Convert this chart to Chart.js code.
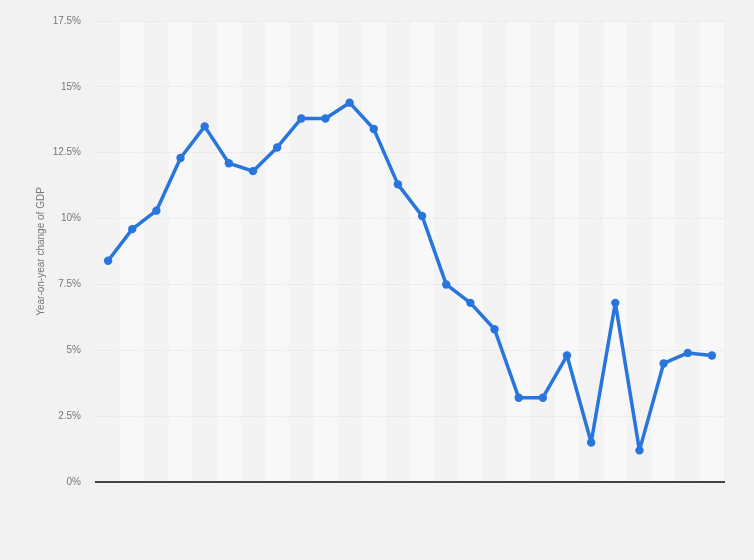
<!DOCTYPE html>
<html>
<head>
<meta charset="utf-8">
<script src="https://cdn.jsdelivr.net/npm/chart.js@4"></script>
<style>
  html, body { margin: 0; padding: 0; background: #f2f2f2; }
  #wrap { width: 754px; height: 560px; position: relative; }
</style>
</head>
<body>
<div id="wrap"><canvas id="canvas"></canvas></div>
<script>
// years are not shown on the reference, so the categories are just positions
var categories = [];
for (var i = 1; i <= 26; i++) categories.push(String(i));

var gdpChange = [8.4, 9.6, 10.3, 12.3, 13.5, 12.1, 11.8, 12.7, 13.8, 13.8,
                 14.4, 13.4, 11.3, 10.1, 7.5, 6.8, 5.8, 3.2, 3.2, 4.8,
                 1.5, 6.8, 1.2, 4.5, 4.9, 4.8];

var yTicks = [0, 2.5, 5, 7.5, 10, 12.5, 15, 17.5];

// alternating column bands behind the line
var stripes = {
  id: 'stripes',
  beforeDraw: function(chart) {
    var ctx = chart.ctx, area = chart.chartArea, x = chart.scales.x;
    var half = (x.getPixelForValue(1) - x.getPixelForValue(0)) / 2;
    ctx.save();
    for (var i = 0; i < categories.length; i++) {
      var c = x.getPixelForValue(i);
      ctx.fillStyle = i % 2 ? '#f8f8f8' : '#f3f3f3';
      ctx.fillRect(c - half, area.top, half * 2, area.bottom - area.top);
    }
    ctx.restore();
  }
};

new Chart(document.getElementById('canvas'), {
  type: 'line',
  data: {
    labels: categories,
    datasets: [{
      data: gdpChange,
      borderColor: '#2876dd',
      backgroundColor: '#2876dd',
      borderWidth: 3.5,
      borderJoinStyle: 'round',
      borderCapStyle: 'round',
      pointRadius: 4.2,
      pointBorderWidth: 0,
      pointHoverRadius: 4.2,
      tension: 0,
      fill: false
    }]
  },
  plugins: [stripes],
  options: {
    responsive: true,
    maintainAspectRatio: false,
    animation: false,
    layout: { padding: { top: 19, right: 30, bottom: 70, left: 0 } },
    plugins: { legend: { display: false }, tooltip: { enabled: false } },
    scales: {
      x: {
        offset: true,
        ticks: { display: false },
        grid: { display: false },
        border: { display: true, color: '#444', width: 2 }
      },
      y: {
        min: 0,
        max: 17.5,
        afterBuildTicks: function(scale) {
          scale.ticks = yTicks.map(function(v) { return { value: v }; });
        },
        afterFit: function(scale) { scale.width = 96; },
        ticks: {
          color: '#777',
          font: { family: 'Liberation Sans', size: 10 },
          padding: 15,
          callback: function(v) { return v + '%'; }
        },
        grid: { color: '#d9d9d9', lineWidth: 1, drawTicks: false },
        border: { display: false, dash: [1, 2] },
        title: {
          display: true,
          text: 'Year-on-year change of GDP',
          color: '#777',
          font: { family: 'Liberation Sans', size: 10 },
          padding: { top: 35, bottom: 0 }
        }
      }
    }
  }
});
</script>
</body>
</html>
